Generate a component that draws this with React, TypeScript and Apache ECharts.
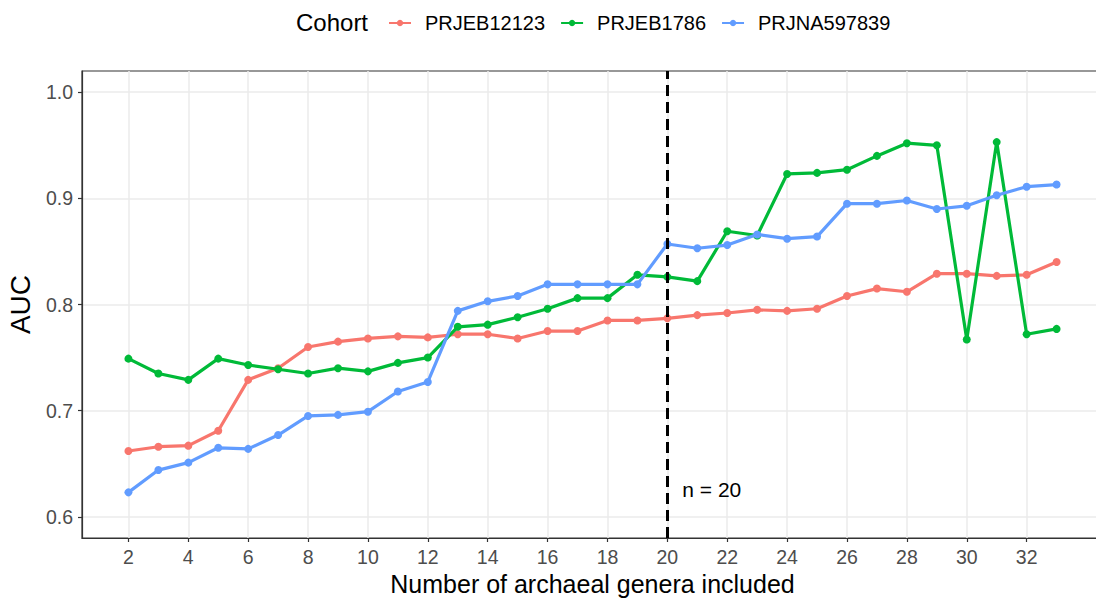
import React, { useEffect, useRef } from "react";
import * as echarts from "echarts";

const genera = [2, 3, 4, 5, 6, 7, 8, 9, 10, 11, 12, 13, 14, 15, 16, 17, 18, 19, 20, 21, 22, 23, 24, 25, 26, 27, 28, 29, 30, 31, 32, 33];
const prjeb12123 = [0.662, 0.666, 0.667, 0.681, 0.729, 0.740, 0.760, 0.765, 0.768, 0.770, 0.769, 0.772, 0.772, 0.768, 0.775, 0.775, 0.785, 0.785, 0.787, 0.790, 0.792, 0.795, 0.794, 0.796, 0.808, 0.815, 0.812, 0.829, 0.829, 0.827, 0.828, 0.840];
const prjeb1786 = [0.749, 0.735, 0.729, 0.749, 0.743, 0.739, 0.735, 0.740, 0.737, 0.745, 0.750, 0.779, 0.781, 0.788, 0.796, 0.806, 0.806, 0.828, 0.826, 0.822, 0.869, 0.865, 0.923, 0.924, 0.927, 0.940, 0.952, 0.950, 0.767, 0.953, 0.772, 0.777];
const prjna597839 = [0.623, 0.644, 0.651, 0.665, 0.664, 0.677, 0.695, 0.696, 0.699, 0.718, 0.727, 0.794, 0.803, 0.808, 0.819, 0.819, 0.819, 0.819, 0.857, 0.853, 0.856, 0.866, 0.862, 0.864, 0.895, 0.895, 0.898, 0.890, 0.893, 0.903, 0.911, 0.913];

const cohorts = ["PRJEB12123", "PRJEB1786", "PRJNA597839"];
const colors = ["#F8766D", "#00BA38", "#619CFF"];
const xTicks = [2, 4, 6, 8, 10, 12, 14, 16, 18, 20, 22, 24, 26, 28, 30, 32];
const yTicks = [0.6, 0.7, 0.8, 0.9, 1.0];
const cutoff = 20;
const cutoffLabel = "n = 20";
const cutoffLabelPos = [20.5, 0.6254];

const FONT = "'Liberation Sans', Arial, Helvetica, sans-serif";

export default function App() {
  const ref = useRef<HTMLDivElement>(null);
  useEffect(() => {
    if (!ref.current) return;
    const chart = echarts.init(ref.current, undefined, { renderer: "svg" });
    const seriesData = [prjeb12123, prjeb1786, prjna597839];
    const series: any[] = cohorts.map((name, i) => ({
      name,
      type: "line",
      data: genera.map((g, j) => [g, seriesData[i][j]]),
      symbol: "circle",
      symbolSize: 8,
      lineStyle: { width: 3.2, color: colors[i] },
      itemStyle: { color: colors[i] },
      z: 3 + i,
    }));
    series[0].markLine = {
      silent: true,
      symbol: "none",
      label: { show: false },
      lineStyle: { color: "#000", width: 3, type: [11, 6] },
      data: [{ xAxis: cutoff }],
      z: 10,
    };
    series[0].markPoint = {
      silent: true,
      symbol: "circle",
      symbolSize: 0,
      data: [{ coord: cutoffLabelPos }],
      label: {
        show: true,
        position: "right",
        distance: 0,
        formatter: cutoffLabel,
        color: "#000",
        fontSize: 21,
        fontFamily: FONT,
      },
    };
    chart.setOption({
      animation: false,
      backgroundColor: "#fff",
      color: colors,
      textStyle: { fontFamily: FONT },
      graphic: [
        {
          type: "text",
          left: 296,
          top: 10,
          style: { text: "Cohort", fontSize: 24, fontFamily: FONT, fill: "#000" },
        },
      ],
      legend: {
        left: 383,
        top: 8,
        itemWidth: 22,
        itemHeight: 8,
        itemGap: 15,
        data: cohorts,
        textStyle: { fontSize: 20, color: "#000", fontFamily: FONT, padding: [0, 0, 0, 9] },
      },
      grid: {
        left: 82,
        top: 71,
        width: 1021,
        height: 467,
        outerBoundsMode: "none",
        containLabel: false,
        show: true,
        borderColor: "#333333",
        borderWidth: 1.2,
        backgroundColor: "transparent",
      },
      xAxis: {
        type: "value",
        min: 0.45,
        max: 34.55,
        name: "Number of archaeal genera included",
        nameLocation: "middle",
        nameGap: 33,
        nameTextStyle: { fontSize: 25, color: "#000", fontFamily: FONT },
        axisLine: { show: true, lineStyle: { color: "#333333", width: 1.2 } },
        axisTick: { show: true, length: 4, customValues: xTicks, lineStyle: { color: "#333333", width: 1.2 } },
        axisLabel: { customValues: xTicks, fontSize: 19.5, color: "#4D4D4D", margin: 9, fontFamily: FONT },
        splitLine: { show: true, lineStyle: { color: "#EBEBEB", width: 1.5 } },
      },
      yAxis: {
        type: "value",
        min: 0.58,
        max: 1.02,
        name: "AUC",
        nameLocation: "middle",
        nameGap: 48,
        nameTextStyle: { fontSize: 28, color: "#000", fontFamily: FONT },
        axisLine: { show: true, lineStyle: { color: "#333333", width: 1.2 } },
        axisTick: { show: true, length: 4, customValues: yTicks, lineStyle: { color: "#333333", width: 1.2 } },
        axisLabel: {
          customValues: yTicks,
          fontSize: 19.5,
          color: "#4D4D4D",
          margin: 9,
          fontFamily: FONT,
          formatter: (v: number) => v.toFixed(1),
        },
        splitLine: { show: true, lineStyle: { color: "#EBEBEB", width: 1.5 } },
      },
      series,
    });
    return () => chart.dispose();
  }, []);
  return <div ref={ref} style={{ width: 1096, height: 599, position: "absolute", left: 0, top: 0 }} />;
}
